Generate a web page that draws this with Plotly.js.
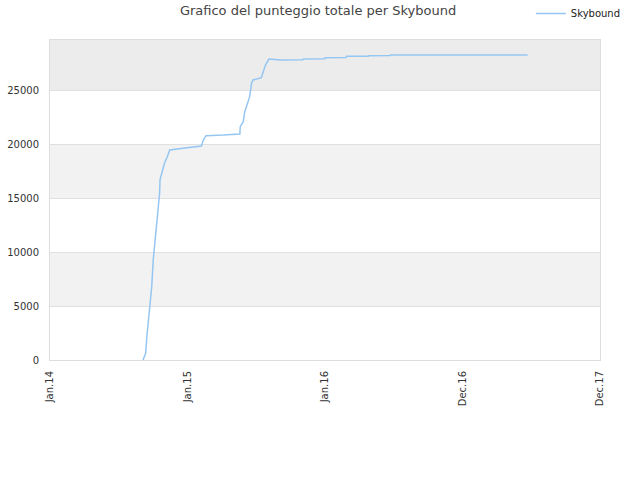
<!DOCTYPE html>
<html>
<head>
<meta charset="utf-8">
<script src="https://cdn.plot.ly/plotly-3.0.1.min.js"></script>
<style>html,body{margin:0;padding:0;background:#fff;}#chart{width:640px;height:480px;}</style>
</head>
<body>
<div id="chart"></div>
<script>
const seriesName = "Skybound";
const dates = [
  "2014-09-05","2014-09-12","2014-09-15","2014-09-23","2014-09-28","2014-10-02",
  "2014-10-07","2014-10-11","2014-10-16","2014-10-19","2014-10-20","2014-10-25",
  "2014-11-01","2014-11-08","2014-11-15","2014-12-20","2015-01-07","2015-02-07",
  "2015-02-12","2015-02-19","2015-04-06","2015-05-20","2015-05-21","2015-05-29",
  "2015-06-02","2015-06-08","2015-06-15","2015-06-20","2015-06-24","2015-07-16",
  "2015-07-20","2015-07-27","2015-08-05","2015-09-04","2015-09-07","2015-11-03",
  "2015-11-04","2015-12-31","2016-01-01","2016-02-26","2016-02-27","2016-04-25",
  "2016-04-26","2016-06-22","2016-06-23","2017-06-22"
];
const scores = [
  0, 650, 2130, 4630, 6760, 9260,
  11110, 12690, 14170, 15460, 16670, 17310,
  18240, 18800, 19440, 19600, 19690, 19810,
  20370, 20770, 20830, 20930, 21600, 22070,
  22990, 23610, 24380, 25620, 25930, 26140,
  26540, 27310, 27870, 27840, 27780, 27800,
  27870, 27900, 27990, 28000, 28120, 28120,
  28180, 28190, 28240, 28240
];
const tickDates = ["2014-01-01","2015-01-01","2016-01-01","2016-12-31","2017-12-31"];
const tickLabels = ["Jan.14","Jan.15","Jan.16","Dec.16","Dec.17"];
const yTicks = [0, 5000, 10000, 15000, 20000, 25000];
const yMax = 29630;

const bandShapes = [];
const bandColors = ["#ffffff","#f2f2f2","#ffffff","#f2f2f2","#ffffff","#ececec"];
for (let i = 0; i < yTicks.length; i++) {
  bandShapes.push({
    type: "rect", xref: "paper", yref: "y", layer: "below",
    x0: 0, x1: 1, y0: yTicks[i], y1: (i + 1 < yTicks.length ? yTicks[i + 1] : yMax),
    fillcolor: bandColors[i], line: {width: 0}
  });
}

const trace = {
  x: dates, y: scores, type: "scatter", mode: "lines", name: seriesName,
  line: {color: "#95c6f2", width: 1.5}
};

const layout = {
  width: 640, height: 480,
  margin: {l: 50, r: 40, t: 40, b: 120, autoexpand: false},
  paper_bgcolor: "#ffffff", plot_bgcolor: "#ffffff",
  font: {family: "DejaVu Sans", size: 10, color: "#333"},
  title: {text: "Grafico del punteggio totale per Skybound", x: 0.497, xanchor: "center", y: 0.987, yanchor: "top",
          font: {family: "DejaVu Sans", size: 13, color: "#444"}},
  showlegend: true,
  legend: {x: 1.047, xanchor: "right", y: 1.128, yanchor: "top", bgcolor: "rgba(0,0,0,0)",
           font: {family: "DejaVu Sans", size: 10, color: "#222"}},
  xaxis: {
    type: "date", range: ["2014-01-01", "2017-12-31"],
    tickmode: "array", tickvals: tickDates, ticktext: tickLabels, tickangle: -90,
    showgrid: false, zeroline: false, showline: true, mirror: true, linecolor: "#dddddd", linewidth: 1,
    ticks: "", ticklabelstandoff: 6, tickfont: {size: 10, color: "#333"}
  },
  yaxis: {
    range: [0, yMax], tickmode: "array", tickvals: yTicks, ticktext: yTicks.map(String),
    showgrid: true, gridcolor: "#e0e0e0", zeroline: false,
    showline: true, mirror: true, linecolor: "#dddddd", linewidth: 1,
    ticks: "", ticklabelstandoff: 8, tickfont: {size: 10, color: "#333"}
  },
  shapes: bandShapes
};

Plotly.newPlot("chart", [trace], layout, {displayModeBar: false, staticPlot: true});
</script>
</body>
</html>
